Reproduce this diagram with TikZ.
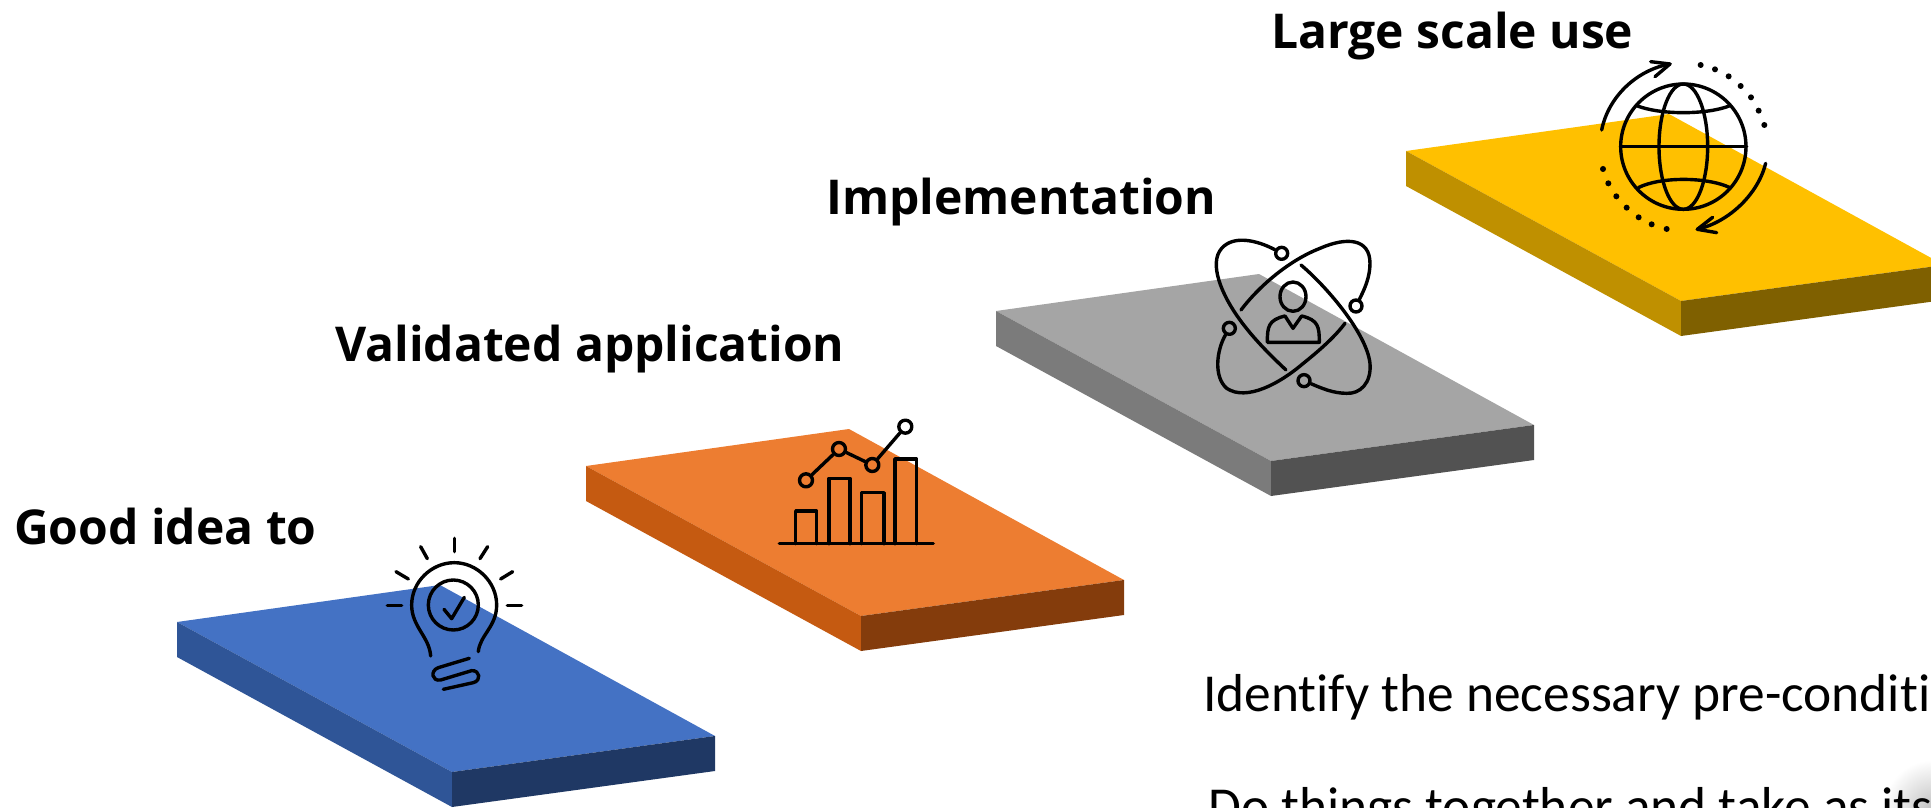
\documentclass[tikz,border=0pt]{standalone}
\usepackage{fontspec}
\setmainfont[Ligatures=NoCommon]{Carlito}
\newfontfamily\labelfont{Open Sans}
\tikzset{
	steplabel/.style={anchor=base west,inner sep=0pt,font=\labelfont\bfseries\fontsize{48}{54}\selectfont},
	bodytext/.style={anchor=base west,inner sep=0pt,font=\fontsize{53.4}{60}\selectfont},
	iconline/.style={line width=3.4pt,line cap=round,line join=round},
	chartdot/.style={circle,draw,line width=3.4pt,minimum size=13pt,inner sep=0pt},
	bulbicon/.style={shift={(370,520)},x=0.3333pt,y=-0.3333pt},
	charticon/.style={shift={(760,400)},x=0.3333pt,y=-0.3333pt},
	atomicon/.style={shift={(1190,220)},x=0.3333pt,y=-0.3333pt},
	globeicon/.style={shift={(1580,40)},x=0.3333pt,y=-0.3333pt}
}
\definecolor{blueT}{HTML}{4472C4}\definecolor{blueL}{HTML}{2F5597}\definecolor{blueR}{HTML}{1F3864}
\definecolor{orangeT}{HTML}{ED7D31}\definecolor{orangeL}{HTML}{C55A11}\definecolor{orangeR}{HTML}{843C0C}
\definecolor{grayT}{HTML}{A5A5A5}\definecolor{grayL}{HTML}{7B7B7B}\definecolor{grayR}{HTML}{525252}
\definecolor{goldT}{HTML}{FFC000}\definecolor{goldL}{HTML}{BF9000}\definecolor{goldR}{HTML}{7F6000}
% top face, left side, right side of one slab
\newcommand{\slab}[2]{%
	\begin{scope}[shift={(#1)}]
		\fill[#2T] (177,622) -- (440,585) -- (715,736) -- (452,772) -- cycle;
		\fill[#2L] (177,622) -- (452,772) -- (452,807) -- (177,657) -- cycle;
		\fill[#2R] (452,772) -- (715,736) -- (715,771) -- (452,807) -- cycle;
	\end{scope}}
\begin{document}
\begin{tikzpicture}[x=1pt,y=-1pt]
	\useasboundingbox (0,0) rectangle (1931,808);
	\clip (0,0) rectangle (1931,808);
	\slab{0,0}{blue}
	\slab{409,-156}{orange}
	\slab{819,-311}{gray}
	\slab{1229,-471}{gold}
	\shade[inner color=black!25,outer color=white] (1933,810) circle (50);
	\node[steplabel] (good) at (14,544) {Good idea to};
	\node[steplabel] (validated) at (335,361) {Validated application};
	\node[steplabel] (implementation) at (826,214) {Implementation};
	\node[steplabel] (large) at (1271,49) {Large scale use};
	\node[bodytext] (identify) at (1203,711) {Identify the necessary pre-conditi};
	\node[bodytext] (together) at (1208,824) {Do things together and take as its};
	% bulb
	\begin{scope}[bulbicon,iconline]
		\draw (182,408) .. controls (178,350) and (125,320) .. (125,255) .. controls (125,185) and (185,128) .. (253,128) .. controls (320,128) and (380,185) .. (380,255) .. controls (380,320) and (330,345) .. (325,395);
		\draw (250,255) circle [x radius=75,y radius=75];
		\draw (222,268) -- (245,296) -- (283,232);
		\draw (298,415) -- (205,443) .. controls (180,452) and (185,485) .. (212,480) -- (305,452) .. controls (330,450) and (335,482) .. (310,488) -- (220,508);
		\draw (253,55) -- (253,95);
		\draw (152,80) -- (172,116);
		\draw (353,80) -- (330,116);
		\draw (78,155) -- (115,177);
		\draw (428,155) -- (392,177);
		\draw (52,257) -- (95,257);
		\draw (412,257) -- (455,257);
	\end{scope}
	% chart
	\begin{scope}[charticon,iconline]
		\draw (58,431) -- (520,431);
		\draw (107,431) -- (107,333) -- (170,333) -- (170,431);
		\draw (207,431) -- (207,235) -- (270,235) -- (270,431);
		\draw (305,431) -- (305,278) -- (372,278) -- (372,431);
		\draw (405,431) -- (405,177) -- (470,177) -- (470,431);
		\node[chartdot] (p1) at (138,241) {};
		\node[chartdot] (p2) at (237,147) {};
		\node[chartdot] (p3) at (337,195) {};
		\node[chartdot] (p4) at (436,80) {};
		\draw (p1) -- (p2);
		\draw (p2) -- (p3);
		\draw (p3) -- (p4);
	\end{scope}
	% atom
	\begin{scope}[atomicon,iconline]
		\draw (309,230) circle [x radius=39,y radius=44];
		\draw (232,367) -- (388,367) .. controls (388,320) and (385,300) .. (335,288) -- (309,325) -- (285,288) .. controls (235,300) and (232,320) .. (232,367);
		\node[chartdot,minimum size=12pt] (a1) at (275,100) {};
		\node[chartdot,minimum size=12pt] (a2) at (498,258) {};
		\node[chartdot,minimum size=12pt] (a3) at (118,325) {};
		\node[chartdot,minimum size=12pt] (a4) at (342,482) {};
		\draw (a1) .. controls (200,60) and (130,45) .. (95,85) .. controls (55,130) and (95,225) .. (150,300) .. controls (190,355) and (240,405) .. (288,450);
		\draw (333,135) .. controls (410,200) and (530,340) .. (540,430) .. controls (545,490) and (510,522) .. (470,520) .. controls (430,520) and (395,505) .. (a4);
		\draw (153,270) .. controls (210,195) and (300,120) .. (390,85) .. controls (470,50) and (540,55) .. (540,130) .. controls (540,170) and (525,205) .. (a2);
		\draw (a3) .. controls (80,390) and (70,470) .. (110,505) .. controls (170,545) and (270,490) .. (340,430) .. controls (390,390) and (435,350) .. (465,310);
	\end{scope}
	% globe
	\begin{scope}[globeicon,iconline]
		\draw (310,320) circle [radius=188];
		\draw (310,320) circle [x radius=73,y radius=188];
		\draw (122,320) -- (500,320);
		\draw (170,197) .. controls (240,225) and (380,225) .. (450,197);
		\draw (175,443) .. controls (240,410) and (380,410) .. (450,443);
		\draw (65,270) .. controls (85,170) and (170,90) .. (270,72);
		\draw (212,65) -- (270,72) -- (225,110);
		\draw (557,370) .. controls (535,460) and (450,545) .. (352,568);
		\draw (398,532) -- (352,568) -- (410,578);
		\foreach \px/\py in {362/75,405/88,446/109,482/138,513/172,536/212,553/255,69/387,85/430,109/469,140/503,176/532,215/553,260/567}
			\fill (\px,\py) circle [radius=9];
	\end{scope}
\end{tikzpicture}
\end{document}
